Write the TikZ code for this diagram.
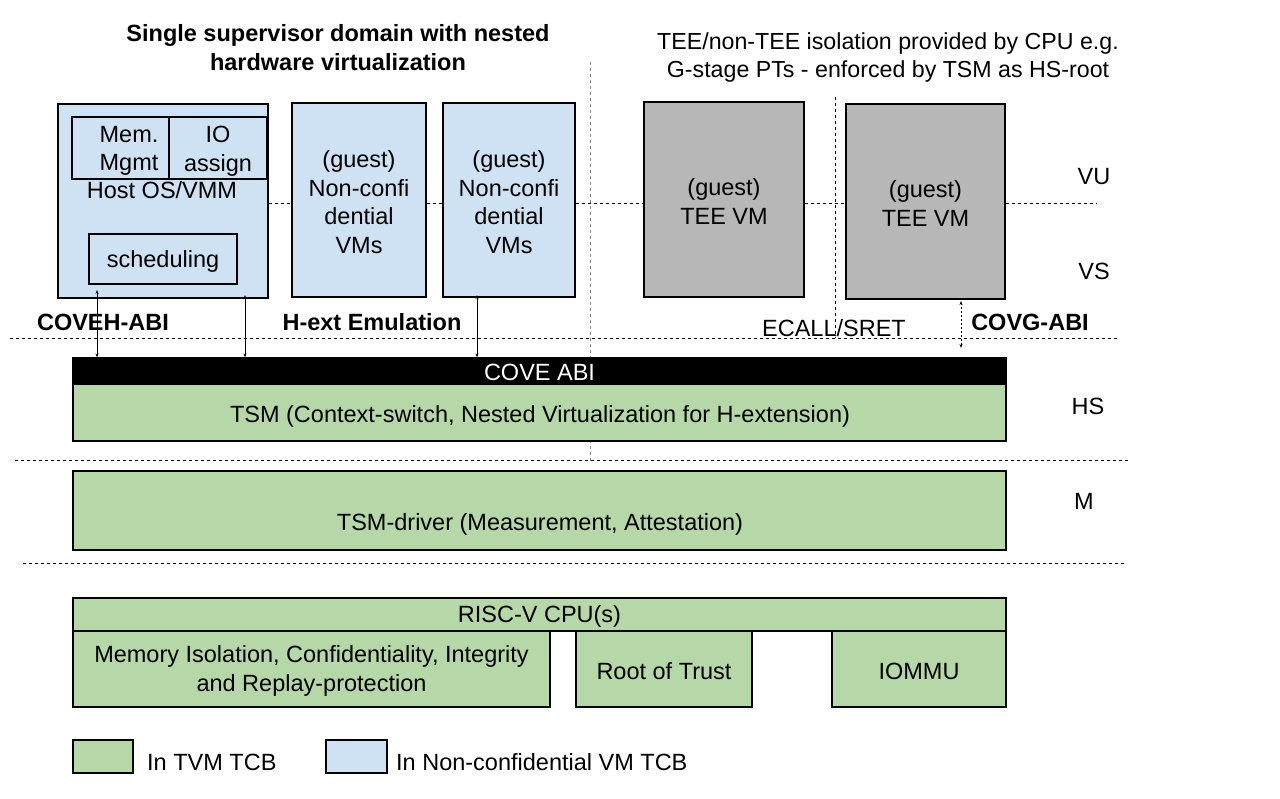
\documentclass[tikz,border=0pt]{standalone}
\usepackage{fontspec}
\setmainfont{Liberation Sans}
\usetikzlibrary{arrows.meta}
\definecolor{tgreen}{HTML}{B6D7A8}
\definecolor{nblue}{HTML}{CFE2F3}
\definecolor{tgray}{HTML}{B7B7B7}
\tikzset{
  txt/.style={font=\fontsize{23.5}{28.5}\selectfont, align=center, inner sep=0pt},
  btxt/.style={txt, font=\fontsize{23.5}{29}\selectfont\bfseries},
  box/.style={draw=black, line width=1.2pt, inner sep=0pt, txt},
  dline/.style={line width=0.9pt, dash pattern=on 3pt off 3pt},
  arr/.style={line width=0.8pt, {Stealth[length=4pt,width=3pt]}-{Stealth[length=4pt,width=3pt]}},
}
\begin{document}
\begin{tikzpicture}[x=1pt,y=-1pt]
\useasboundingbox (0,0) rectangle (1280,798);
% titles
\node[btxt] (title) at (338,48) {Single supervisor domain with nested\\hardware virtualization};
\node[txt, font=\fontsize{23.2}{28}\selectfont] (iso) at (888,57) {TEE/non-TEE isolation provided by CPU e.g.\\G-stage PTs - enforced by TSM as HS-root};
% level dashed lines
\coordinate (l1a) at (10,338); \coordinate (l1b) at (1118,338);
\coordinate (l2a) at (15,460); \coordinate (l2b) at (1128,460);
\coordinate (l3a) at (23,563); \coordinate (l3b) at (1126,563);
\draw[dline] (l1a) -- (l1b);
\draw[dline] (l2a) -- (l2b);
\draw[dline] (l3a) -- (l3b);
\coordinate (v1a) at (590,62); \coordinate (v1b) at (590,462);
\draw[dline, draw=black!45] (v1a) -- (v1b);
\coordinate (v2a) at (835,97); \coordinate (v2b) at (835,338);
\draw[dline] (v2a) -- (v2b);
% host
\node[box, fill=nblue, minimum width=210pt, minimum height=194pt] (host) at (163,201) {};
\node[box, minimum width=97pt, minimum height=62pt] (mem) at (120.5,148) {};
\node[txt] (memt) at (129,151) {Mem.\\Mgmt};
\node[box, minimum width=98pt, minimum height=62pt] (io) at (218,148) {};
\node[txt] (iot) at (218,151) {IO\\assign};
\node[txt] (hostt) at (162,190) {Host OS/VMM};
\node[box, minimum width=148pt, minimum height=50pt] (sched) at (163,259) {};
\node[txt] (schedt) at (163,261) {scheduling};
% guests
\node[box, fill=nblue, minimum width=134pt, minimum height=194pt] (nc1) at (359,200) {};
\node[txt] (nc1t) at (359,202) {(guest)\\Non-confi\\dential\\VMs};
\node[box, fill=nblue, minimum width=132pt, minimum height=194pt] (nc2) at (509,200) {};
\node[txt] (nc2t) at (509,202) {(guest)\\Non-confi\\dential\\VMs};
\node[box, fill=tgray, minimum width=160pt, minimum height=195pt] (tee1) at (724,199.5) {};
\node[txt] (tee1t) at (724,201.5) {(guest)\\TEE VM};
\node[box, fill=tgray, minimum width=159pt, minimum height=195pt] (tee2) at (925.5,201.5) {};
\node[txt] (tee2t) at (925.5,203.5) {(guest)\\TEE VM};
% dashed link row
\coordinate (yr) at (0,203);
\coordinate (rend) at (1097,203);
\draw[dline] (host.east |- yr) -- (nc1.west |- yr);
\draw[dline] (nc1.east |- yr) -- (nc2.west |- yr);
\draw[dline] (nc2.east |- yr) -- (tee1.west |- yr);
\draw[dline] (tee1.east |- yr) -- (tee2.west |- yr);
\draw[dline] (tee2.east |- yr) -- (rend);
% labels
\node[btxt] (coveh) at (103,322) {COVEH-ABI};
\node[btxt] (hext) at (372,322) {H-ext Emulation};
\node[txt] (ecall) at (834,328) {ECALL/SRET};
\node[btxt] (covg) at (1030,322) {COVG-ABI};
\node[txt] (vu) at (1094,177) {VU};
\node[txt] (vs) at (1094,271) {VS};
\node[txt] (hs) at (1088,406) {HS};
\node[txt] (m) at (1084,501) {M};
% TSM stack
\node[box, fill=black, minimum width=933pt, minimum height=26pt] (cove) at (539.5,371) {};
\node[txt, text=white] (covet) at (539.5,372) {COVE ABI};
\node[box, fill=tgreen, minimum width=933pt, minimum height=57pt] (tsm) at (539.5,412.5) {};
\node[txt] (tsmt) at (540,416) {TSM (Context-switch, Nested Virtualization for H-extension)};
\node[box, fill=tgreen, minimum width=933pt, minimum height=79pt] (drv) at (539.5,510.5) {};
\node[txt] (drvt) at (540,524) {TSM-driver (Measurement, Attestation)};
\node[box, fill=tgreen, minimum width=933pt, minimum height=33pt] (cpu) at (539.5,614.5) {};
\node[txt] (cput) at (539.5,616) {RISC-V CPU(s)};
\node[box, fill=tgreen, minimum width=477pt, minimum height=76pt] (memiso) at (311.5,669) {};
\node[txt] (memisot) at (311.5,671) {Memory Isolation, Confidentiality, Integrity\\and Replay-protection};
\node[box, fill=tgreen, minimum width=176pt, minimum height=76pt] (rot) at (664,669) {};
\node[txt] (rott) at (664,671) {Root of Trust};
\node[box, fill=tgreen, minimum width=174pt, minimum height=76pt] (iommu) at (919,669) {};
\node[txt] (iommut) at (919,671) {IOMMU};
% arrows
\coordinate (a1) at (97,290);
\coordinate (a2) at (245,295);
\coordinate (a3) at (477,295);
\draw[arr] (a1) -- (a1 |- cove.north);
\draw[arr] (a2) -- (a2 |- cove.north);
\draw[arr] (a3) -- (a3 |- cove.north);
\coordinate (g1) at (961,301); \coordinate (g2) at (961,348);
\draw[arr, dash pattern=on 2pt off 2pt] (g1) -- (g2);
% legend
\node[box, fill=tgreen, minimum width=60pt, minimum height=33pt] (leg1) at (103,756.5) {};
\node[txt, anchor=west] (leg1t) at (147,762) {In TVM TCB};
\node[box, fill=nblue, minimum width=61pt, minimum height=33pt] (leg2) at (356.5,756.5) {};
\node[txt, anchor=west] (leg2t) at (396,762) {In Non-confidential VM TCB};
\end{tikzpicture}
\end{document}
